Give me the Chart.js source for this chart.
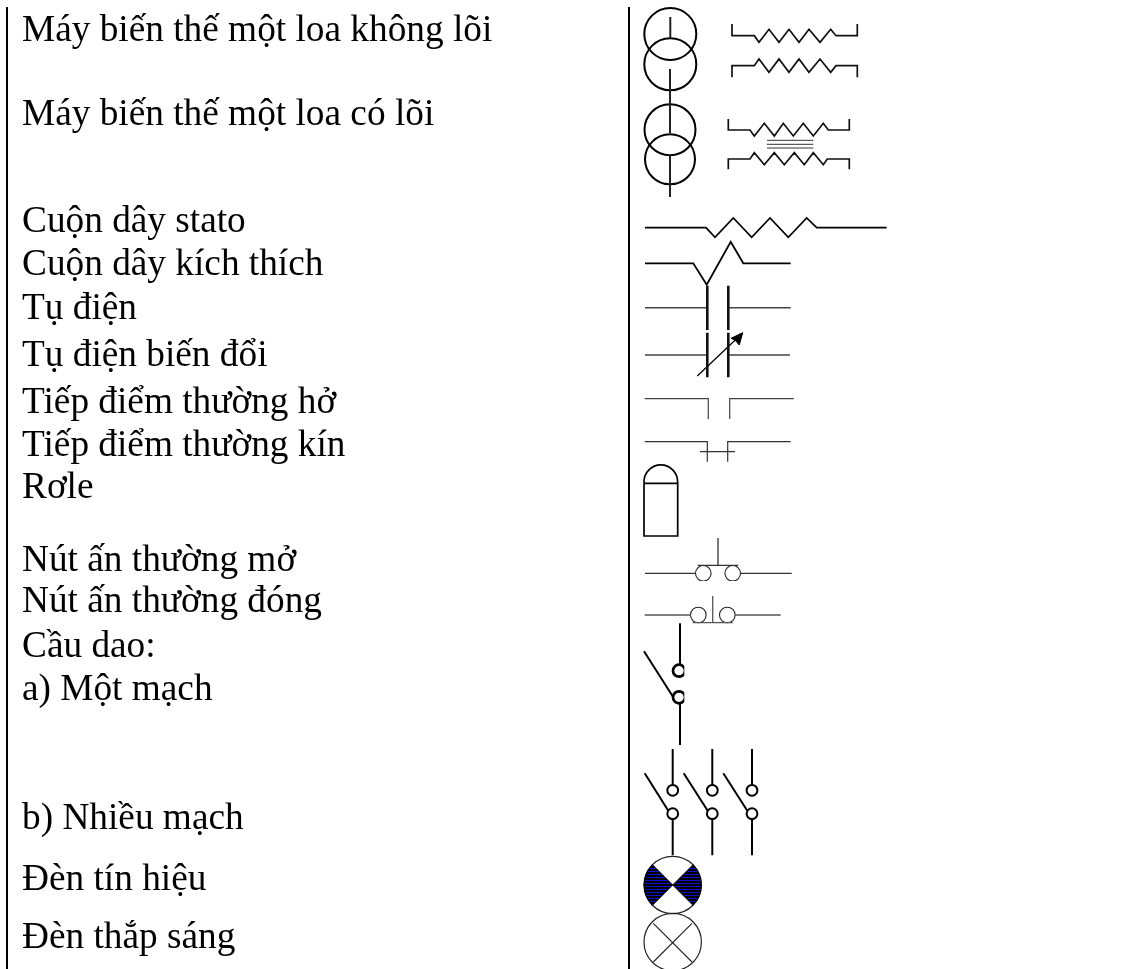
<!DOCTYPE html>
<html><head><meta charset="utf-8">
<style>html,body{margin:0;padding:0;background:#fff}canvas{display:block}</style>
<script src="https://cdn.jsdelivr.net/npm/chart.js@4/dist/chart.umd.min.js"></script>
</head><body><canvas id="c" width="1143" height="969"></canvas>
<script>
const labelTexts = ["Máy biến thế một loa không lõi","Máy biến thế một loa có lõi","Cuộn dây stato","Cuộn dây kích thích","Tụ điện","Tụ điện biến đổi","Tiếp điểm thường hở","Tiếp điểm thường kín","Rơle","Nút ấn thường mở","Nút ấn thường đóng","Cầu dao:","a) Một mạch","b) Nhiều mạch","Đèn tín hiệu","Đèn thắp sáng"];
const labelX = 22;
const labelY = [41,125,232,275,319,366,413,456,498,571,612,657,700,829,890,948];

const rules = [[[7,7],[7,969]],[[629,7],[629,969]]];
const stems = [[[670.3,17],[670.3,38]],[[670,69],[670,133]],[[670,155],[670,197]]];
const circlesLarge = [[670.3,34,26],[670.3,64.3,26],[670,129.7,25.5],[670,159.3,25]];
const coil1 = [[732,24],[732,35.7],[754.3,35.7],[759,42.3],[769,29.3],[779,42.3],[789,29.3],[799,42.3],[809,29.3],[820,42.3],[830.7,29.3],[836,35.7],[857.3,35.7],[857.3,24]];
const coil2 = [[732,77.3],[732,65.7],[754.3,65.7],[759,59],[769,72.3],[779,59],[789,72.3],[799,59],[809,72.3],[820,59],[830.7,72.3],[836,65.7],[857.3,65.7],[857.3,77.3]];
const coil3 = [[728.3,119],[728.3,130],[750,130],[754.3,136],[764.3,123.3],[774.3,136],[783.3,123.3],[793.3,136],[803.3,123.3],[813.3,136],[823.3,123.3],[828.3,130],[849.3,130],[849.3,119]];
const coil4 = [[728.3,169.3],[728.3,159],[750,159],[754.3,152.7],[764.3,164.7],[774.3,152.7],[784.3,164.7],[794.3,152.7],[804.3,164.7],[813.3,152.7],[823.3,164.7],[827.3,159],[849.3,159],[849.3,169.3]];
const coreLines = [[[767,140.3],[813.3,140.3]],[[767,144.3],[813.3,144.3]],[[767,148],[813.3,148]]];
const stato = [[645,227.7],[706,227.7],[715,237.3],[733.3,218],[751.7,237.3],[770,218],[788.3,237.3],[806.7,218],[816.7,227.7],[886.7,227.7]];
const excitation = [[645,263.3],[693.3,263.3],[706.7,284.7],[730.7,241.7],[743.3,263.3],[790.7,263.3]];
const capPlates = [[[707.3,285.7],[707.3,330]],[[728.3,285.7],[728.3,330]],[[707.3,332.7],[707.3,377.3]],[[728.3,332.7],[728.3,377.3]]];
const capLeads = [[[645,307.7],[707,307.7]],[[728,307.7],[790.7,307.7]],[[645,355],[707,355]],[[728,355],[790,355]]];
const arrowShaft = [[697.3,376],[740,335.5]];
const arrowHead = [[742.7,332.7],[731,338.3],[735,340],[739.3,345],[742.7,332.7]];
const contactNO = [[[644.7,398.7],[708.3,398.7],[708.3,419]],[[793.7,398.7],[729.7,398.7],[729.7,419]]];
const contactNC = [[[644.7,441.7],[707.3,441.7],[707.3,461.7]],[[790.7,441.7],[727.7,441.7],[727.7,461.7]],[[700,451.7],[735,451.7]]];
const relayBox = [[644,483.3],[677.7,483.3],[677.7,536],[644,536],[644,483.3]];
const relayArch = [[660.8,481.7,16.8]];
const pushNO = [[[645,573.3],[695.5,573.3]],[[740.5,573.3],[791.7,573.3]],[[718,538],[718,565.3]],[[697.7,565.3],[738.3,565.3]]];
const pushNOCircles = [[703.3,573.3,7.8],[732.7,573.3,7.8]];
const pushNC = [[[644.7,615],[690.7,615]],[[735,615],[780.7,615]],[[712.7,596],[712.7,622.7]],[[692.7,622.7],[732.7,622.7]]];
const pushNCCircles = [[698.3,615,7.8],[727.3,615,7.8]];
const knifeA = [[[680,623.3],[680,664]],[[680,704],[680,745]],[[644,651.3],[673.3,697.3]]];
const knifeACups = [[679,670.7,6],[679,697.3,6]];
const knifeB = [[[672.7,749],[672.7,785]],[[712.3,749],[712.3,785]],[[752,749],[752,785]],[[672.7,819.3],[672.7,855.3]],[[712.3,819.3],[712.3,855.3]],[[752,819.3],[752,855.3]],[[644.7,773.3],[668.3,810.7]],[[683.7,773.3],[707.7,810.7]],[[723.3,773.3],[747.3,810.7]]];
const knifeBCircles = [[672.7,790.3,5.4],[712.3,790.3,5.4],[752,790.3,5.4],[672.7,813.7,5.4],[712.3,813.7,5.4],[752,813.7,5.4]];
const lampCircles = [[672.7,885,28.7],[672.7,942,28.7]];
const signalLeft = [[672.7,885],[652.4,864.7],[647.8,870.65],[645,877.6],[644,885],[645,892.4],[647.8,899.35],[652.4,905.3],[672.7,885]];
const signalRight = [[672.7,885],[693,864.7],[697.6,870.65],[700.4,877.6],[701.4,885],[700.4,892.4],[697.6,899.35],[693,905.3],[672.7,885]];
const lampCross = [[[653.3,923.3],[692,962]],[[692,923.3],[653.3,962]]];

const W = 1143, H = 969;
const pts = a => a.map(p => ({x:p[0], y:p[1]}));
const line = (a, w, col='#000') => ({type:'scatter', data:pts(a), showLine:true, borderColor:col, borderWidth:w, pointRadius:0, fill:false, tension:0, borderJoinStyle:'miter', borderCapStyle:'butt', clip:false});
const circ = (a, w, col='#000', clip=false) => ({type:'scatter', data:pts(a), showLine:false, pointRadius:a.map(p=>p[2]), pointBorderWidth:w, pointBorderColor:col, pointBackgroundColor:'transparent', pointStyle:'circle', clip});
const shape = (a, fillStyle) => ({type:'scatter', data:pts(a), showLine:true, borderColor:'#000', borderWidth:1, pointRadius:0, fill:'shape', backgroundColor:fillStyle, tension:0, clip:false});

const pc = document.createElement('canvas'); pc.width = 4; pc.height = 3;
const px = pc.getContext('2d');
px.fillStyle='#000'; px.fillRect(0,0,4,3);
px.fillStyle='#1010d0'; px.fillRect(0,1,4,1);
const stripes = document.getElementById('c').getContext('2d').createPattern(pc,'repeat');

const datasets = [];
rules.forEach(r=>datasets.push(line(r,2)));
stems.forEach(r=>datasets.push(line(r,2,'#222')));
datasets.push(circ(circlesLarge,2));
[coil1,coil2,coil3,coil4].forEach(c=>datasets.push(line(c,1.7,'#111')));
coreLines.forEach(c=>datasets.push(line(c,1,'#333')));
datasets.push(line(stato,1.7),line(excitation,1.8));
capPlates.forEach(c=>datasets.push(line(c,2.6,'#111')));
capLeads.forEach(c=>datasets.push(line(c,1.5,'#444')));
datasets.push(line(arrowShaft,1.3), shape(arrowHead,'#000'));
contactNO.forEach(c=>datasets.push(line(c,1.2,'#444')));
contactNC.forEach(c=>datasets.push(line(c,1.2,'#333')));
datasets.push(line(relayBox,1.7));
datasets.push(circ(relayArch,1.7,'#000',{left:0,right:0,top:0,bottom:483-H}));
pushNO.forEach(c=>datasets.push(line(c,1.3,'#333')));
datasets.push(circ(pushNOCircles,1.1,'#222',{left:0,right:0,top:0,bottom:581-H}));
pushNC.forEach(c=>datasets.push(line(c,1.3,'#555')));
datasets.push(circ(pushNCCircles,1.1,'#222'));
knifeA.forEach(c=>datasets.push(line(c,2)));
datasets.push(circ(knifeACups,2.7,'#000',{left:0,right:684.3-W,top:0,bottom:0}));
knifeB.forEach(c=>datasets.push(line(c,2)));
datasets.push(circ(knifeBCircles,2));
datasets.push(shape(signalLeft,stripes),shape(signalRight,stripes));
datasets.push(circ(lampCircles,1.2,'#222'));
lampCross.forEach(c=>datasets.push(line(c,1.1,'#222')));

const textPlugin = {id:'rowLabels', afterDatasetsDraw(chart){
  const {ctx, scales:{x,y}} = chart;
  ctx.save();
  ctx.font = '37.3px "Liberation Serif"';
  ctx.fillStyle = '#000';
  ctx.textBaseline = 'alphabetic';
  ctx.textAlign = 'left';
  labelTexts.forEach((t,i)=>ctx.fillText(t, x.getPixelForValue(labelX), y.getPixelForValue(labelY[i])));
  ctx.restore();
}};

new Chart(document.getElementById('c'), {
  type:'scatter',
  data:{datasets},
  plugins:[textPlugin],
  options:{
    responsive:false, animation:false, events:[],
    layout:{padding:0, autoPadding:false},
    plugins:{legend:{display:false},tooltip:{enabled:false},title:{display:false}},
    scales:{
      x:{type:'linear',min:0,max:W,display:false},
      y:{type:'linear',min:0,max:H,reverse:true,display:false}
    }
  }
});
</script></body></html>
